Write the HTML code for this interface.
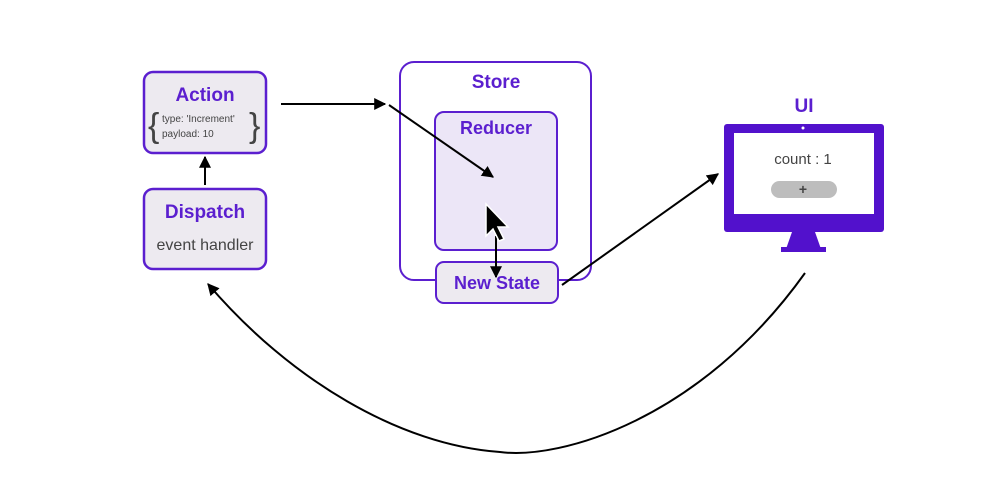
<!DOCTYPE html>
<html><head><style>
html,body{margin:0;padding:0;background:#fff;width:996px;height:500px;overflow:hidden}
text{font-family:"Liberation Sans",sans-serif}
</style></head><body>
<svg width="996" height="500" viewBox="0 0 996 500" xmlns="http://www.w3.org/2000/svg">
<defs>
<marker id="a" viewBox="0 0 10 10" refX="9" refY="5" markerWidth="6" markerHeight="6" orient="auto"><path d="M0,0 L10,5 L0,10 z" fill="#000"/></marker>
</defs>
<!-- Action -->
<rect x="144" y="72" width="122" height="81" rx="9" fill="#edeaf0" stroke="#5b1fcf" stroke-width="2.5"/>
<text x="205" y="101" text-anchor="middle" font-size="19" font-weight="bold" fill="#5b1fcf">Action</text>
<text x="148" y="137" font-size="34" fill="#444">{</text>
<text x="162" y="122" font-size="10" fill="#444">type: 'Increment'</text>
<text x="162" y="137" font-size="10" fill="#444">payload: 10</text>
<text x="249" y="137" font-size="34" fill="#444">}</text>
<!-- Dispatch -->
<rect x="144" y="189" width="122" height="80" rx="9" fill="#edeaf0" stroke="#5b1fcf" stroke-width="2.5"/>
<text x="205" y="218" text-anchor="middle" font-size="19" font-weight="bold" fill="#5b1fcf">Dispatch</text>
<text x="205" y="250" text-anchor="middle" font-size="16" fill="#444">event handler</text>
<!-- Store -->
<rect x="400" y="62" width="191" height="218" rx="14" fill="#fff" stroke="#5b1fcf" stroke-width="2"/>
<text x="496" y="88" text-anchor="middle" font-size="19" font-weight="bold" fill="#5b1fcf">Store</text>
<rect x="435" y="112" width="122" height="138" rx="9" fill="#ece6f7" stroke="#5b1fcf" stroke-width="2"/>
<text x="496" y="134" text-anchor="middle" font-size="18" font-weight="bold" fill="#5b1fcf">Reducer</text>
<rect x="436" y="262" width="122" height="41" rx="8" fill="#edeaf0" stroke="#5b1fcf" stroke-width="2"/>
<text x="497" y="289" text-anchor="middle" font-size="18" font-weight="bold" fill="#5b1fcf">New State</text>
<!-- UI -->
<text x="804" y="112" text-anchor="middle" font-size="19" font-weight="bold" fill="#5b1fcf">UI</text>
<rect x="724" y="124" width="160" height="108" rx="3" fill="#5211cc"/>
<rect x="734" y="133" width="140" height="81" fill="#fff"/>
<circle cx="803" cy="128" r="1.5" fill="#fff"/>
<polygon points="792,232 815,232 821,249 786,249" fill="#5211cc"/>
<rect x="781" y="247" width="45" height="5" fill="#5211cc"/>
<text x="803" y="164" text-anchor="middle" font-size="15" fill="#444">count : 1</text>
<rect x="771" y="181" width="66" height="17" rx="8.5" fill="#bdbdbd"/>
<text x="803" y="194" text-anchor="middle" font-size="14" font-weight="bold" fill="#444">+</text>
<!-- arrows -->
<g stroke="#000" stroke-width="2" fill="none">
<line x1="281" y1="104" x2="385" y2="104" marker-end="url(#a)"/>
<line x1="389" y1="105" x2="493" y2="177" marker-end="url(#a)"/>
<line x1="205" y1="185" x2="205" y2="157" marker-end="url(#a)"/>
<line x1="496" y1="236" x2="496" y2="277" marker-end="url(#a)"/>
<line x1="562" y1="285" x2="718" y2="174" marker-end="url(#a)"/>
<path d="M805,273 C700,420 560,460 500,452 C400,445 290,380 208,284" marker-end="url(#a)"/>
</g>
<!-- cursor -->
<polygon points="486,204 486,236 493,229 499,241 504,239 498,227 508,227" fill="#000" stroke="#fff" stroke-width="1.5"/>
</svg>
</body></html>
